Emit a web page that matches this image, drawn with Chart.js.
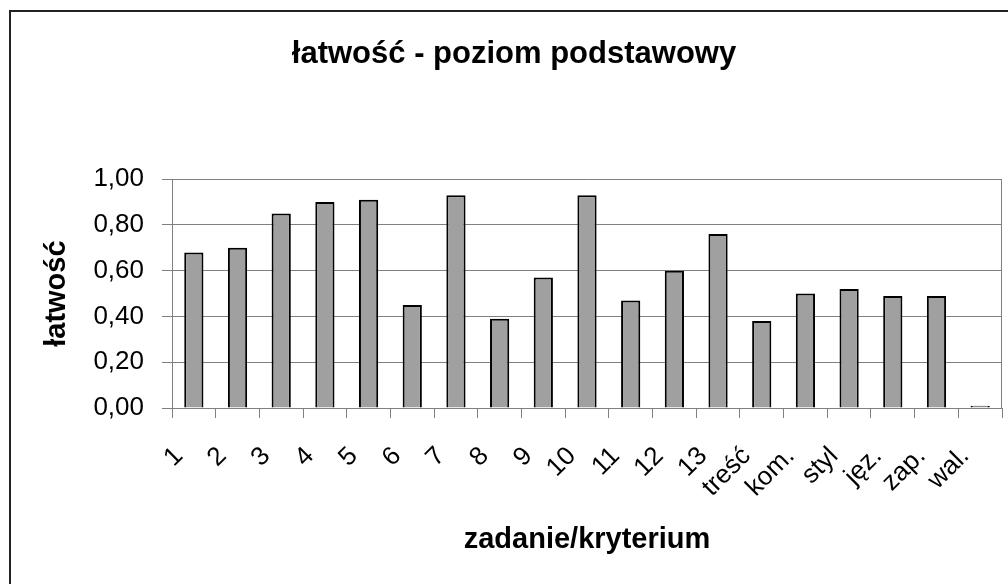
<!DOCTYPE html>
<html lang="pl">
<head>
<meta charset="utf-8">
<title>łatwość - poziom podstawowy</title>
<script src="https://cdn.jsdelivr.net/npm/chart.js@4"></script>
<style>
  html, body { margin: 0; padding: 0; background: #fff; overflow: hidden; }
  #wrap { position: relative; width: 1008px; height: 584px; }
</style>
</head>
<body>
<div id="wrap"><canvas id="wykres"></canvas></div>
<script>
// dane z wykresu
const kategorie = ["1", "2", "3", "4", "5", "6", "7", "8", "9", "10", "11", "12", "13",
  "treść", "kom.", "styl", "jęz.", "zap.", "wal."];
const latwosc = [0.68, 0.70, 0.85, 0.90, 0.91, 0.45, 0.93, 0.39, 0.57, 0.93, 0.47, 0.60, 0.76,
  0.38, 0.50, 0.52, 0.49, 0.49, 0.01];
const osY = { min: 0, max: 1, krok: 0.2 };
const tytul = "łatwość - poziom podstawowy";
const tytulX = "zadanie/kryterium";
const tytulY = "łatwość";

Chart.defaults.font.family = "'Liberation Sans', Arial, sans-serif";
Chart.defaults.color = "#000";

// ramka wykresu i prawa krawędź obszaru danych
const ramka = {
  id: "ramka",
  beforeDraw(chart) {
    const ctx = chart.ctx;
    ctx.save();
    ctx.strokeStyle = "#222";
    ctx.lineWidth = 2;
    ctx.beginPath();
    ctx.moveTo(10, 600);
    ctx.lineTo(10, 11);
    ctx.lineTo(1020, 11);
    ctx.stroke();
    ctx.restore();
  },
  beforeDatasetsDraw(chart) {
    const a = chart.chartArea;
    const ctx = chart.ctx;
    ctx.save();
    ctx.strokeStyle = "#808080";
    ctx.lineWidth = 1;
    ctx.beginPath();
    const x = Math.round(a.right) - 0.5;
    ctx.moveTo(x, Math.round(a.top));
    ctx.lineTo(x, Math.round(a.bottom));
    ctx.stroke();
    ctx.restore();
  }
};

const ctx = document.getElementById("wykres").getContext("2d");
new Chart(ctx, {
  type: "bar",
  data: {
    labels: kategorie,
    datasets: [{
      label: tytulY,
      data: latwosc,
      backgroundColor: "#a0a0a0",
      borderColor: "#000",
      borderWidth: 2,
      categoryPercentage: 1,
      barPercentage: 0.44
    }]
  },
  options: {
    responsive: true,
    maintainAspectRatio: false,
    animation: false,
    layout: { padding: { top: 12, left: 26, right: 6, bottom: 0 } },
    plugins: {
      legend: { display: false },
      tooltip: { enabled: false },
      title: {
        display: true,
        text: tytul,
        font: { size: 31, weight: "bold" },
        color: "#000",
        padding: { top: 24, bottom: 106 }
      }
    },
    scales: {
      x: {
        grid: { drawOnChartArea: false, drawTicks: true, tickLength: 10, color: "#808080", offset: true },
        border: { color: "#808080" },
        ticks: {
          autoSkip: false,
          minRotation: 45,
          maxRotation: 45,
          padding: 23,
          labelOffset: -15,
          font: { size: 26 }
        },
        title: {
          display: true,
          text: tytulX,
          font: { size: 29, weight: "bold" },
          padding: { top: 19, bottom: 27 }
        },
        afterFit(skala) {
          skala.paddingLeft = 0;
          skala.paddingRight = 0;
          skala.height = 176;
        }
      },
      y: {
        min: osY.min,
        max: osY.max,
        grid: { color: "#808080", tickLength: 10 },
        border: { color: "#808080" },
        ticks: {
          stepSize: osY.krok,
          padding: 18,
          font: { size: 26 },
          callback: v => v.toFixed(2).replace(".", ",")
        },
        title: {
          display: true,
          text: tytulY,
          font: { size: 29, weight: "bold" },
          padding: { top: 14, bottom: 18 }
        },
        afterFit(skala) {
          skala.width = 146;
        }
      }
    }
  },
  plugins: [ramka]
});
</script>
</body>
</html>
